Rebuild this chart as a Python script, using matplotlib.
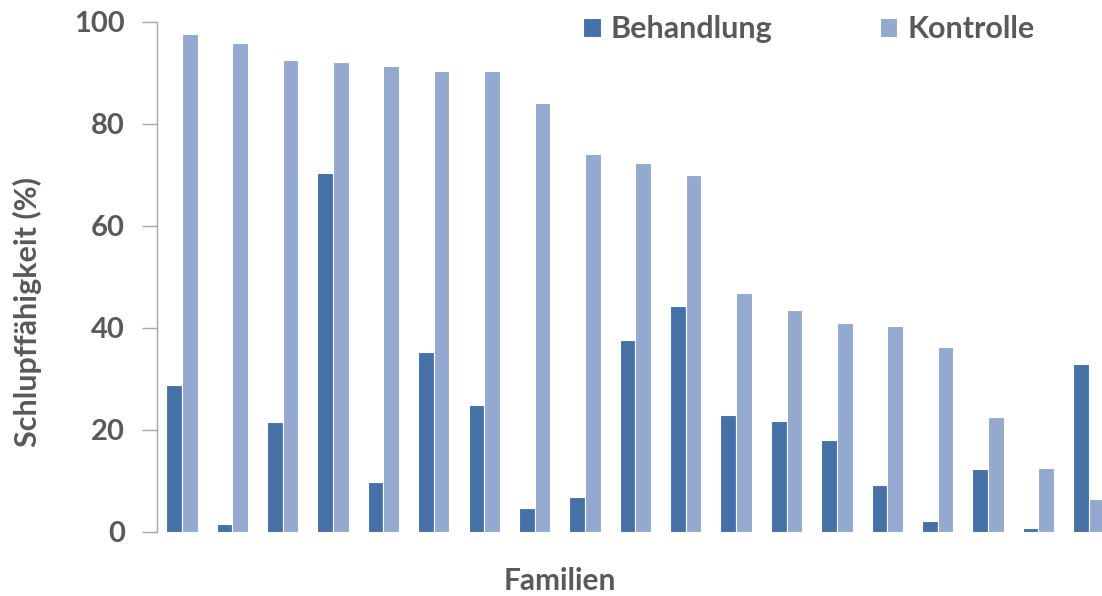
import numpy as np
import matplotlib
matplotlib.use('Agg')
import matplotlib.pyplot as plt

# === DATA ===
families = list(range(1, 20))
behandlung = [28.8, 1.4, 21.4, 70.4, 9.8, 35.2, 24.8, 4.7, 6.7, 37.6,
              44.2, 22.8, 21.6, 17.9, 9.1, 2.0, 12.3, 0.7, 32.9]
kontrolle = [97.7, 95.8, 92.5, 92.1, 91.3, 90.3, 90.3, 84.2, 74.1, 72.4,
             69.9, 46.9, 43.5, 41.0, 40.3, 36.3, 22.5, 12.5, 6.3]

# === STYLE ===
dark = '#4571a7'
light = '#93a9cf'
text_col = '#595959'
plt.rcParams['font.family'] = ['Lato', 'DejaVu Sans']

W, H = 1102, 596
fig = plt.figure(figsize=(W / 100, H / 100), dpi=100)
ax_l, ax_r, ax_b, ax_t = 156.7, 1114, 531.5, 22
ax = fig.add_axes([ax_l / W, 1 - ax_b / H, (ax_r - ax_l) / W, (ax_b - ax_t) / H])

x = np.arange(len(families))
w = 0.31
ax.bar(x - w / 2, behandlung, width=w, color=dark, edgecolor='white',
       linewidth=0.8, label='Behandlung')
ax.bar(x + w / 2, kontrolle, width=w, color=light, edgecolor='white',
       linewidth=0.8, label='Kontrolle')

ax.set_xlim(-0.5, len(families) - 0.5)
ax.set_ylim(0, 100)
ax.set_yticks([0, 20, 40, 60, 80, 100])
ax.set_xticks([])

for s in ['top', 'right', 'bottom']:
    ax.spines[s].set_visible(False)
ax.spines['left'].set_color('#a6a6a6')
ax.spines['left'].set_linewidth(1.0)
ax.tick_params(axis='y', length=11, width=1.0, color='#a6a6a6',
               labelsize=21, labelcolor=text_col, pad=12)
for lbl in ax.get_yticklabels():
    lbl.set_fontweight('bold')

# axis titles, placed where they sit in the reference
ax.set_ylabel('Schlupffähigkeit (%)', fontsize=22, fontweight='bold',
              color=text_col, va='center', ha='center')
ax.yaxis.set_label_coords((27 - ax_l) / (ax_r - ax_l), (ax_b - 312) / (ax_b - ax_t))
ax.set_xlabel('Familien', fontsize=21.5, fontweight='bold',
              color=text_col, va='center', ha='center')
ax.xaxis.set_label_coords((560 - ax_l) / (ax_r - ax_l), (ax_b - 581) / (ax_b - ax_t))

leg = fig.legend(loc='center left', bbox_to_anchor=(583 / W, 1 - 29 / H),
                 ncol=2, frameon=False, fontsize=22, handlelength=0.58,
                 handleheight=0.58, handletextpad=0.33, columnspacing=3.5,
                 borderpad=0, borderaxespad=0)
for t in leg.get_texts():
    t.set_color(text_col)
    t.set_fontweight('bold')

fig.savefig('out.png', dpi=100)
